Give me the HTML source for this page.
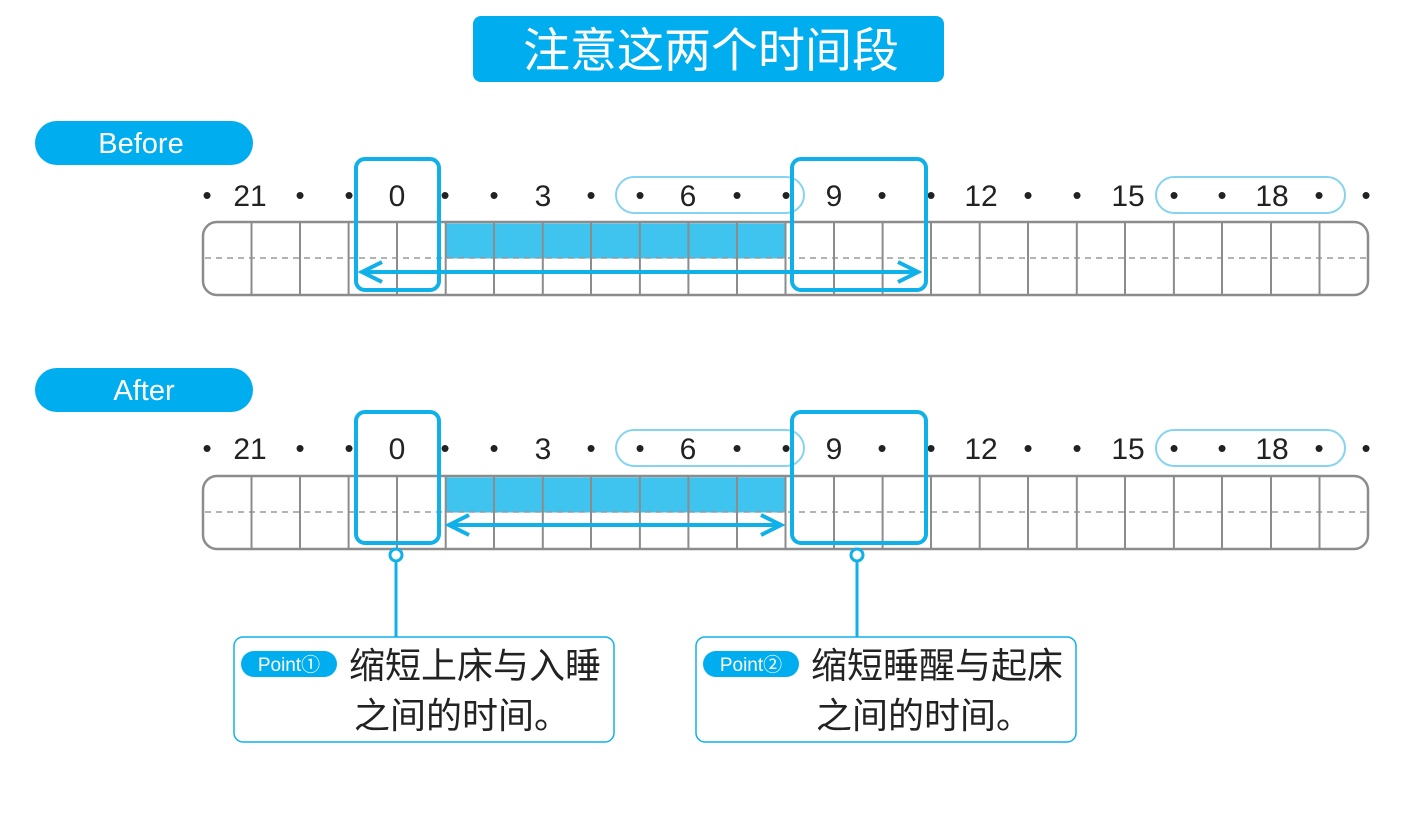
<!DOCTYPE html>
<html><head><meta charset="utf-8"><style>
body{margin:0;background:#fff;}
svg{display:block;font-family:"Liberation Sans","Noto Sans CJK SC",sans-serif;}
</style></head><body>
<svg width="1424" height="817" viewBox="0 0 1424 817">
<defs>
<g id="row">
  <rect x="203" y="0" width="1165" height="73" rx="14" fill="#fff" stroke="#8c8c8c" stroke-width="2.5"/>
  <rect x="445" y="1.5" width="341" height="35" fill="#3fc3ef"/>
  <line x1="205" y1="36" x2="1366" y2="36" stroke="#9a9a9a" stroke-width="1.5" stroke-dasharray="6,5"/>
  <g stroke="#8c8c8c" stroke-width="2">
  <line x1="251.5" y1="0" x2="251.5" y2="73"/><line x1="300" y1="0" x2="300" y2="73"/><line x1="348.6" y1="0" x2="348.6" y2="73"/><line x1="397" y1="0" x2="397" y2="73"/><line x1="445.7" y1="0" x2="445.7" y2="73"/><line x1="494" y1="0" x2="494" y2="73"/><line x1="542.8" y1="0" x2="542.8" y2="73"/><line x1="591" y1="0" x2="591" y2="73"/><line x1="639.9" y1="0" x2="639.9" y2="73"/><line x1="688.4" y1="0" x2="688.4" y2="73"/><line x1="737" y1="0" x2="737" y2="73"/><line x1="785.5" y1="0" x2="785.5" y2="73"/><line x1="834" y1="0" x2="834" y2="73"/><line x1="882.6" y1="0" x2="882.6" y2="73"/><line x1="931" y1="0" x2="931" y2="73"/><line x1="979.7" y1="0" x2="979.7" y2="73"/><line x1="1028" y1="0" x2="1028" y2="73"/><line x1="1076.8" y1="0" x2="1076.8" y2="73"/><line x1="1125" y1="0" x2="1125" y2="73"/><line x1="1173.9" y1="0" x2="1173.9" y2="73"/><line x1="1222" y1="0" x2="1222" y2="73"/><line x1="1271" y1="0" x2="1271" y2="73"/><line x1="1319.5" y1="0" x2="1319.5" y2="73"/>
  </g>
</g>
<g id="labels" font-size="30" fill="#222" text-anchor="middle">
  <rect x="616" y="-18" width="188" height="36" rx="18" fill="none" stroke="#86d3f1" stroke-width="2"/>
  <rect x="1156" y="-18" width="189" height="36" rx="18" fill="none" stroke="#86d3f1" stroke-width="2"/>
  <g font-size="26">
  <text x="207" y="9">•</text><text x="300" y="9">•</text><text x="349" y="9">•</text><text x="445" y="9">•</text><text x="494" y="9">•</text><text x="591" y="9">•</text><text x="640" y="9">•</text><text x="737" y="9">•</text><text x="786" y="9">•</text><text x="882" y="9">•</text><text x="931" y="9">•</text><text x="1028" y="9">•</text><text x="1077" y="9">•</text><text x="1174" y="9">•</text><text x="1222" y="9">•</text><text x="1319" y="9">•</text><text x="1366" y="9">•</text>
  </g>
  <text x="250" y="11">21</text><text x="397" y="11">0</text><text x="543" y="11">3</text><text x="688" y="11">6</text><text x="834" y="11">9</text><text x="981" y="11">12</text><text x="1128" y="11">15</text><text x="1272" y="11">18</text>
</g>
</defs>

<rect x="473" y="16" width="471" height="66" rx="8" fill="#00aeef"/>
<text x="711" y="67" font-size="47" fill="#fff" text-anchor="middle">注意这两个时间段</text>

<!-- Before -->
<rect x="35" y="121" width="218" height="44" rx="22" fill="#00aeef"/>
<text x="141" y="153" font-size="29" fill="#fff" text-anchor="middle">Before</text>
<use href="#labels" transform="translate(0,195)"/>
<use href="#row" transform="translate(0,222)"/>
<rect x="356" y="159" width="83" height="131" rx="9" fill="none" stroke="#10b0e8" stroke-width="4"/>
<rect x="792" y="159" width="134" height="131" rx="9" fill="none" stroke="#10b0e8" stroke-width="4"/>
<line x1="362" y1="272" x2="918" y2="272" stroke="#10b0e8" stroke-width="4"/>
<polyline points="382,262 362,272 382,282" fill="none" stroke="#10b0e8" stroke-width="4"/>
<polyline points="898,262 918,272 898,282" fill="none" stroke="#10b0e8" stroke-width="4"/>

<!-- After -->
<rect x="35" y="368" width="218" height="44" rx="22" fill="#00aeef"/>
<text x="144" y="400" font-size="29" fill="#fff" text-anchor="middle">After</text>
<use href="#labels" transform="translate(0,448)"/>
<use href="#row" transform="translate(0,476)"/>
<rect x="356" y="412" width="83" height="131" rx="9" fill="none" stroke="#10b0e8" stroke-width="4"/>
<rect x="792" y="412" width="134" height="131" rx="9" fill="none" stroke="#10b0e8" stroke-width="4"/>
<line x1="449" y1="525" x2="781" y2="525" stroke="#10b0e8" stroke-width="4"/>
<polyline points="469,515 449,525 469,535" fill="none" stroke="#10b0e8" stroke-width="4"/>
<polyline points="761,515 781,525 761,535" fill="none" stroke="#10b0e8" stroke-width="4"/>

<line x1="396" y1="561" x2="396" y2="637" stroke="#10b0e8" stroke-width="3"/>
<circle cx="396" cy="555" r="6" fill="#fff" stroke="#10b0e8" stroke-width="3"/>
<line x1="857" y1="561" x2="857" y2="637" stroke="#10b0e8" stroke-width="3"/>
<circle cx="857" cy="555" r="6" fill="#fff" stroke="#10b0e8" stroke-width="3"/>

<rect x="234" y="637" width="380" height="105" rx="9" fill="#fff" stroke="#10b0e8" stroke-width="1.5"/>
<rect x="241" y="651" width="96" height="26" rx="13" fill="#00aeef"/>
<text x="289" y="671" font-size="19" fill="#fff" text-anchor="middle">Point①</text>
<text x="349" y="678" font-size="36" fill="#222">缩短上床与入睡</text>
<text x="354" y="728" font-size="36" fill="#222">之间的时间。</text>

<rect x="696" y="637" width="380" height="105" rx="9" fill="#fff" stroke="#10b0e8" stroke-width="1.5"/>
<rect x="703" y="651" width="96" height="26" rx="13" fill="#00aeef"/>
<text x="751" y="671" font-size="19" fill="#fff" text-anchor="middle">Point②</text>
<text x="811" y="678" font-size="36" fill="#222">缩短睡醒与起床</text>
<text x="816" y="728" font-size="36" fill="#222">之间的时间。</text>
</svg>
</body></html>
